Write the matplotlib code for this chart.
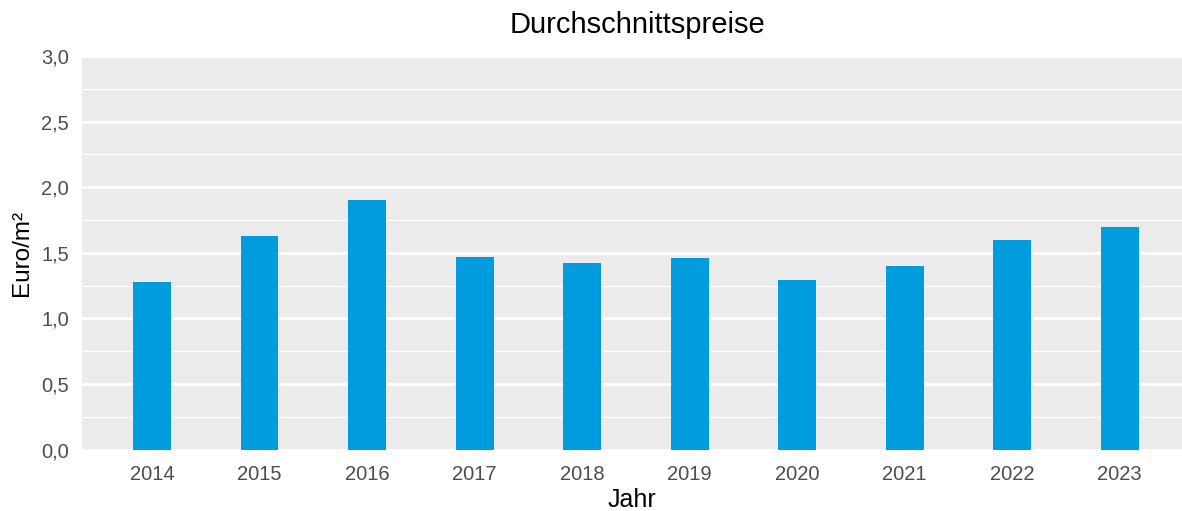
import matplotlib
matplotlib.use("Agg")
import matplotlib.pyplot as plt
from matplotlib.ticker import MultipleLocator, FuncFormatter

years = ["2014", "2015", "2016", "2017", "2018", "2019", "2020", "2021", "2022", "2023"]
prices = [1.28, 1.63, 1.90, 1.47, 1.42, 1.46, 1.29, 1.40, 1.60, 1.70]

plt.rcParams['font.family'] = ['Liberation Sans', 'DejaVu Sans']

W, H = 1182, 511
fig = plt.figure(figsize=(W/100, H/100), dpi=100)
ax = fig.add_axes([82/W, 1 - 449.5/H, (1182-82)/W, (449.5-56)/H])
ax.set_facecolor('#EBEBEB')

x = list(range(len(years)))
ax.bar(x, prices, width=0.353, color='#009CDE', zorder=3)

ax.set_xlim(-0.651, len(years) - 1 + 0.58)
ax.set_ylim(0, 3.0)
ax.yaxis.set_major_locator(MultipleLocator(0.5))
ax.yaxis.set_minor_locator(MultipleLocator(0.25))
ax.yaxis.set_major_formatter(FuncFormatter(lambda v, p: f"{v:.1f}".replace('.', ',')))
ax.grid(which='major', axis='y', color='white', linewidth=2.0, zorder=1)
ax.grid(which='minor', axis='y', color='white', linewidth=1.0, zorder=1)
ax.set_xticks(x)
ax.set_xticklabels(years)
ax.tick_params(axis='both', which='both', length=0, labelsize=14.5, colors='#4D4D4D')
ax.tick_params(axis='x', pad=11)
ax.tick_params(axis='y', pad=9.5)
for s in ax.spines.values():
    s.set_visible(False)

ax.set_xlabel("Jahr", fontsize=18, color='black', labelpad=3)
ax.set_ylabel("Euro/m²", fontsize=17.5, color='black', labelpad=6)
fig.text(637/W, 1 - 25/H, "Durchschnittspreise", fontsize=21, color='black',
         ha='center', va='center')

fig.savefig("out.png", dpi=100, facecolor='white')
